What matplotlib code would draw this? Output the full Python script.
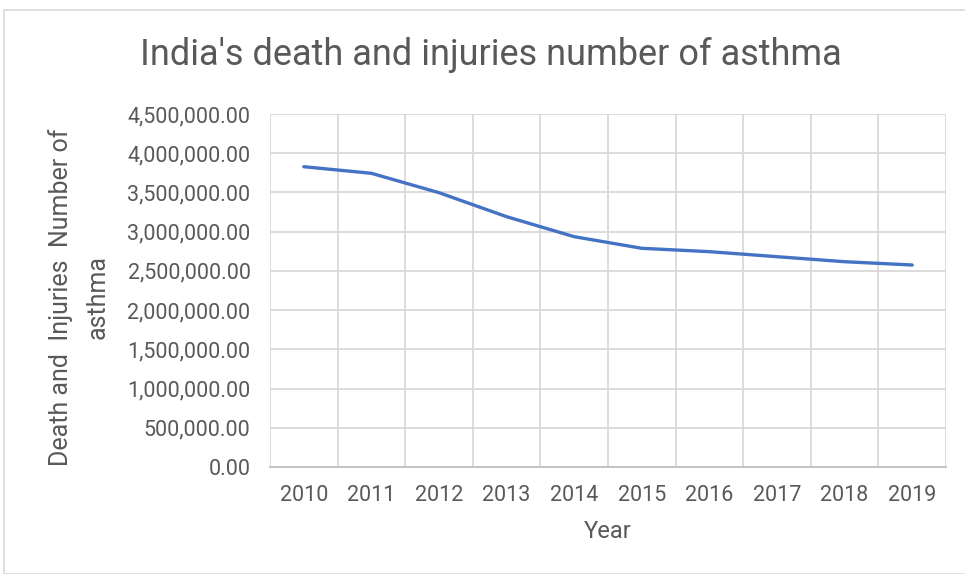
import matplotlib
matplotlib.use("Agg")
import matplotlib.pyplot as plt
from matplotlib.ticker import FuncFormatter, MultipleLocator
from matplotlib.patches import Rectangle
import numpy as np

years = ["2010", "2011", "2012", "2013", "2014", "2015", "2016", "2017", "2018", "2019"]
cases = [3828000, 3744000, 3497000, 3191000, 2936000, 2788000, 2745000, 2681000, 2617000, 2575000]

plt.rcParams['font.family'] = ['Roboto', 'DejaVu Sans']
txt = '#595959'

fig = plt.figure(figsize=(9.65, 5.74), dpi=100)
fig.patches.append(Rectangle((4/965, 0), 1.2, 1 - 10/574, transform=fig.transFigure,
                             fill=False, edgecolor='#D9D9D9', linewidth=1.2))
ax = fig.add_axes([270/965, 1 - 467/574, (946-270)/965, (467-114)/574])

x = np.arange(len(years))
ax.plot(x, cases, color='#4472C4', linewidth=2.4, solid_capstyle='round', zorder=3)

ax.set_xlim(-0.5, len(years) - 0.5)
ax.set_ylim(0, 4500000)
ax.yaxis.set_major_locator(MultipleLocator(500000))
ax.yaxis.set_major_formatter(FuncFormatter(lambda v, p: f"{v:,.2f}"))
ax.set_xticks(x)
ax.set_xticklabels(years)
ax.set_xticks(np.arange(-0.5, len(years)), minor=True)
ax.grid(axis='y', which='major', color='#D9D9D9', linewidth=1.3)
ax.grid(axis='x', which='minor', color='#D9D9D9', linewidth=1.3)
ax.set_axisbelow(True)
for s in ['top', 'right', 'left']:
    ax.spines[s].set_visible(False)
ax.spines['bottom'].set_color('#BFBFBF')
ax.spines['bottom'].set_linewidth(1.3)
ax.tick_params(axis='both', which='both', length=0, colors=txt)
ax.tick_params(axis='x', labelsize=15.5, pad=13)
ax.tick_params(axis='y', labelsize=15.5, pad=14)

ax.set_xlabel('Year', color=txt, fontsize=17, labelpad=10)
fig.text(79/965, 1 - 297/574, 'Death and  Injuries  Number of\nasthma', rotation=90,
         ha='center', va='center', multialignment='center', color=txt,
         fontsize=18, linespacing=1.65)
fig.text(491/965, 1 - 55/574, "India's death and injuries number of asthma",
         ha='center', va='center', color=txt, fontsize=26)

fig.savefig('out.png', dpi=100)
